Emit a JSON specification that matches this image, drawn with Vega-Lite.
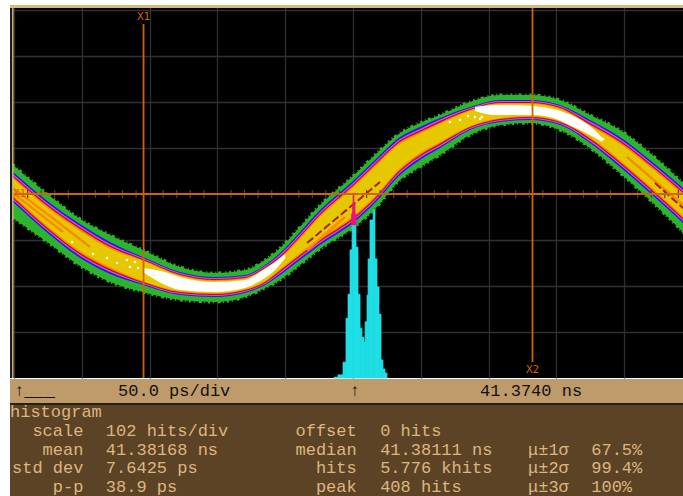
{
"$schema":"https://vega.github.io/schema/vega-lite/v6.json",
"background":"white",
"padding":{"left":10,"top":5,"right":0,"bottom":0},
"autosize":{"type":"pad"},
"spacing":0,
"config":{"view":{"stroke":null},"text":{"font":"Liberation Mono"}},
"datasets":{
"wave":[
{"t":-250.8,"gt":29,"gb":-24,"bt":22,"bb":-8,"mt":20,"mb":-6,"rt":18.5,"rb":-4.5,"ot":17,"ob":-3,"yt":15,"yb":-1},
{"t":-223.5,"gt":-2,"gb":-50,"bt":-9,"bb":-41,"mt":-11,"mb":-39,"rt":-12.5,"rb":-37.5,"ot":-14,"ob":-36,"yt":-16,"yb":-34},
{"t":-201.3,"gt":-25,"gb":-72,"bt":-30,"bb":-64,"mt":-32,"mb":-62,"rt":-33.5,"rb":-60.5,"ot":-35,"ob":-59,"yt":-37,"yb":-57},
{"t":-179.2,"gt":-41,"gb":-88,"bt":-48,"bb":-80,"mt":-50,"mb":-78,"rt":-51.5,"rb":-76.5,"ot":-53,"ob":-75,"yt":-55,"yb":-73},
{"t":-154.9,"gt":-56,"gb":-98,"bt":-63,"bb":-91,"mt":-64,"mb":-90,"rt":-65,"rb":-89,"ot":-66,"ob":-88,"yt":-67,"yb":-87},
{"t":-127.6,"gt":-73,"gb":-106,"bt":-78,"bb":-101,"mt":-79,"mb":-100,"rt":-80,"rb":-99,"ot":-81,"ob":-98,"yt":-82,"yb":-97},
{"t":-101.8,"gt":-79,"gb":-108,"bt":-83,"bb":-103,"mt":-84,"mb":-102,"rt":-85,"rb":-101,"ot":-86,"ob":-100,"yt":-87,"yb":-99},
{"t":-79.7,"gt":-76,"gb":-103,"bt":-81,"bb":-99,"mt":-82,"mb":-98,"rt":-83,"rb":-97,"ot":-84,"ob":-96,"yt":-85,"yb":-95},
{"t":-64.9,"gt":-66,"gb":-94,"bt":-71,"bb":-91,"mt":-72,"mb":-90,"rt":-73,"rb":-89,"ot":-74,"ob":-88,"yt":-75,"yb":-87},
{"t":-53.8,"gt":-54,"gb":-86,"bt":-59,"bb":-81,"mt":-60.5,"mb":-79.5,"rt":-62,"rb":-78,"ot":-63.5,"ob":-76.5,"yt":-65,"yb":-75},
{"t":-39.1,"gt":-33,"gb":-71,"bt":-38,"bb":-66,"mt":-40,"mb":-64,"rt":-41.5,"rb":-62.5,"ot":-43,"ob":-61,"yt":-45,"yb":-59},
{"t":-24.3,"gt":-11,"gb":-55,"bt":-16,"bb":-51,"mt":-18,"mb":-49,"rt":-19.5,"rb":-47.5,"ot":-21,"ob":-46,"yt":-23,"yb":-44},
{"t":0,"gt":18,"gb":-34,"bt":13,"bb":-29,"mt":11,"mb":-27,"rt":9.5,"rb":-25.5,"ot":8,"ob":-24,"yt":6,"yb":-22},
{"t":16.2,"gt":39,"gb":-15,"bt":34,"bb":-9,"mt":32,"mb":-7,"rt":30.5,"rb":-5.5,"ot":29,"ob":-4,"yt":27,"yb":-2},
{"t":34.7,"gt":61,"gb":14,"bt":57,"bb":19,"mt":55,"mb":21,"rt":53.5,"rb":22.5,"ot":52,"ob":24,"yt":50,"yb":26},
{"t":49.4,"gt":71,"gb":27,"bt":67,"bb":34,"mt":65,"mb":36,"rt":63.5,"rb":37.5,"ot":62,"ob":39,"yt":60,"yb":41},
{"t":64.2,"gt":79,"gb":39,"bt":76,"bb":46,"mt":74.5,"mb":47.5,"rt":73,"rb":49,"ot":71.5,"ob":50.5,"yt":70,"yb":52},
{"t":86.3,"gt":92,"gb":59,"bt":87,"bb":64,"mt":86,"mb":65,"rt":85,"rb":66,"ot":84,"ob":67,"yt":83,"yb":68},
{"t":108.4,"gt":99,"gb":69,"bt":94,"bb":72,"mt":93,"mb":73,"rt":92,"rb":74,"ot":91,"ob":75,"yt":90,"yb":76},
{"t":130.5,"gt":99,"gb":71,"bt":94,"bb":74,"mt":93,"mb":75,"rt":92,"rb":76,"ot":91,"ob":77,"yt":90,"yb":78},
{"t":152.7,"gt":94,"gb":64,"bt":89,"bb":69,"mt":88,"mb":70,"rt":87,"rb":71,"ot":86,"ob":72,"yt":85,"yb":73},
{"t":174.8,"gt":79,"gb":46,"bt":74,"bb":51,"mt":72.5,"mb":52.5,"rt":71,"rb":54,"ot":69.5,"ob":55.5,"yt":68,"yb":57},
{"t":196.9,"gt":64,"gb":21,"bt":57,"bb":27,"mt":55,"mb":29,"rt":53.5,"rb":30.5,"ot":52,"ob":32,"yt":50,"yb":34},
{"t":219,"gt":41,"gb":-6,"bt":34,"bb":1,"mt":32,"mb":3,"rt":30.5,"rb":4.5,"ot":29,"ob":6,"yt":27,"yb":8},
{"t":243.4,"gt":11,"gb":-38,"bt":6,"bb":-29,"mt":4,"mb":-27,"rt":2.5,"rb":-25.5,"ot":1,"ob":-24,"yt":-1,"yb":-22}
],
"white":[
{"s":"a","t":-155,"wt":-74,"wb":-78},{"s":"a","t":-138.6,"wt":-78,"wb":-91},{"s":"a","t":-127.6,"wt":-83,"wb":-96},{"s":"a","t":-101.8,"wt":-88,"wb":-98},{"s":"a","t":-79.7,"wt":-86,"wb":-94},{"s":"a","t":-68.6,"wt":-78,"wb":-87},{"s":"a","t":-57.5,"wt":-68,"wb":-76},{"s":"a","t":-50,"wt":-60,"wb":-64},
{"s":"b","t":90,"wt":87,"wb":83},{"s":"b","t":104.7,"wt":89,"wb":79},{"s":"b","t":113.6,"wt":89,"wb":79},{"s":"b","t":132.7,"wt":88,"wb":79},{"s":"b","t":147.5,"wt":85,"wb":76},{"s":"b","t":162.3,"wt":78,"wb":67},{"s":"b","t":174.8,"wt":68,"wb":59},{"s":"b","t":184,"wt":56,"wb":52}
],
"dots":[
{"t":-207.2,"a":-48},{"t":-191.8,"a":-60},{"t":-181.5,"a":-64},{"t":-174.1,"a":-69},{"t":-166.7,"a":-66},{"t":-164.5,"a":-73},{"t":-160.8,"a":-68},{"t":-158.6,"a":-74},
{"t":71.5,"a":72},{"t":78.9,"a":74},{"t":84.8,"a":78},{"t":90,"a":77},{"t":95,"a":77},{"t":93.7,"a":75},{"t":180,"a":57},{"t":184.4,"a":55}
],
"traces":[
{"s":"o1","t":-250.8,"a":6},{"s":"o1","t":-223.5,"a":-22},{"s":"o1","t":-194,"a":-53},
{"s":"o2","t":-250.8,"a":1},{"s":"o2","t":-213.9,"a":-38},
{"s":"o3","t":-33.9,"a":-56},{"s":"o3","t":-5.9,"a":-23},
{"s":"o4","t":202,"a":37},{"s":"o4","t":243.4,"a":-11}
],
"dark":[
{"s":"d1","t":-33.9,"a":-49},{"s":"d1","t":19.9,"a":12},
{"s":"d2","t":222.7,"a":11},{"s":"d2","t":243.4,"a":-14}
],
"hist":[
{"t":-14.0,"t2":-11.1,"hits":2},{"t":-11.1,"t2":-7.4,"hits":7},{"t":-7.4,"t2":-5.2,"hits":35},{"t":-5.2,"t2":-3.7,"hits":132},{"t":-3.7,"t2":-2.2,"hits":185},{"t":-2.2,"t2":-0.7,"hits":283},{"t":-0.7,"t2":2.2,"hits":338},{"t":2.2,"t2":3.7,"hits":289},{"t":3.7,"t2":5.2,"hits":185},{"t":5.2,"t2":6.6,"hits":110},{"t":6.6,"t2":8.1,"hits":90},{"t":8.1,"t2":8.9,"hits":79},{"t":8.9,"t2":10.3,"hits":124},{"t":10.3,"t2":11.1,"hits":183},{"t":11.1,"t2":12.5,"hits":263},{"t":12.5,"t2":14.8,"hits":349},{"t":14.8,"t2":16.2,"hits":371},{"t":16.2,"t2":17.7,"hits":263},{"t":17.7,"t2":19.2,"hits":201},{"t":19.2,"t2":20.7,"hits":141},{"t":20.7,"t2":22.1,"hits":40},{"t":22.1,"t2":23.6,"hits":20},{"t":23.6,"t2":25.1,"hits":11}
],
"pink":[
{"t":-1.1,"t2":2.2,"h1":338,"h2":362},{"t":-0.4,"t2":1.5,"h1":362,"h2":385},{"t":0,"t2":0.7,"h1":385,"h2":408}
],
"minor":[{"t":-240},{"t":-230},{"t":-220},{"t":-210},{"t":-190},{"t":-180},{"t":-170},{"t":-160},{"t":-140},{"t":-130},{"t":-120},{"t":-110},{"t":-90},{"t":-80},{"t":-70},{"t":-60},{"t":-40},{"t":-30},{"t":-20},{"t":-10},{"t":10},{"t":20},{"t":30},{"t":40},{"t":60},{"t":70},{"t":80},{"t":90},{"t":110},{"t":120},{"t":130},{"t":140},{"t":160},{"t":170},{"t":180},{"t":190},{"t":210},{"t":220},{"t":230},{"t":240}]
},
"vconcat":[
{"width":673,"height":373,
"view":{"fill":"#000000","stroke":null},
"resolve":{"scale":{"y":"independent"}},
"layer":[
{"layer":[
{"data":{"values":[{"t":0,"a":0}]},"mark":{"type":"point","opacity":0},
"encoding":{"x":{"field":"t","type":"quantitative","scale":{"domain":[-253,243.4],"nice":false,"zero":false},"axis":{"title":null,"labels":false,"ticks":false,"domain":false,"minExtent":0,"maxExtent":0,"grid":true,"gridColor":"#303030","gridWidth":1.3,"values":[-250,-200,-150,-100,-50,0,50,100,150,200]}},
"y":{"field":"a","type":"quantitative","scale":{"domain":[-184,189],"nice":false,"zero":false},"axis":{"title":null,"labels":false,"ticks":false,"domain":false,"minExtent":0,"maxExtent":0,"grid":true,"gridColor":"#303030","gridWidth":1.3,"values":[184,138,92,46,-46,-92,-138]}}}},
{"data":{"name":"wave"},"mark":{"type":"area","clip":true,"interpolate":"monotone","color":"#2cb52c","stroke":"#2cb52c","strokeWidth":3,"strokeDash":[2,3,1,2,3,4,1,3]},"encoding":{"x":{"field":"t","type":"quantitative"},"y":{"field":"gt","type":"quantitative"},"y2":{"field":"gb"}}},
{"data":{"name":"wave"},"mark":{"type":"area","interpolate":"monotone","color":"#1c1cf0"},"encoding":{"x":{"field":"t","type":"quantitative"},"y":{"field":"bt","type":"quantitative"},"y2":{"field":"bb"}}},
{"data":{"name":"wave"},"mark":{"type":"area","interpolate":"monotone","color":"#f040e8"},"encoding":{"x":{"field":"t","type":"quantitative"},"y":{"field":"mt","type":"quantitative"},"y2":{"field":"mb"}}},
{"data":{"name":"wave"},"mark":{"type":"area","interpolate":"monotone","color":"#b00c28"},"encoding":{"x":{"field":"t","type":"quantitative"},"y":{"field":"rt","type":"quantitative"},"y2":{"field":"rb"}}},
{"data":{"name":"wave"},"mark":{"type":"area","interpolate":"monotone","color":"#fb8c00"},"encoding":{"x":{"field":"t","type":"quantitative"},"y":{"field":"ot","type":"quantitative"},"y2":{"field":"ob"}}},
{"data":{"name":"wave"},"mark":{"type":"area","interpolate":"monotone","color":"#e6c800"},"encoding":{"x":{"field":"t","type":"quantitative"},"y":{"field":"yt","type":"quantitative"},"y2":{"field":"yb"}}},
{"data":{"name":"traces"},"mark":{"type":"line","clip":true,"color":"#fb8c00","strokeWidth":2.5},"encoding":{"x":{"field":"t","type":"quantitative"},"y":{"field":"a","type":"quantitative"},"detail":{"field":"s"}}},
{"data":{"name":"dark"},"mark":{"type":"line","clip":true,"color":"#b02010","strokeWidth":2,"strokeDash":[8,3]},"encoding":{"x":{"field":"t","type":"quantitative"},"y":{"field":"a","type":"quantitative"},"detail":{"field":"s"}}},
{"data":{"name":"white"},"mark":{"type":"area","interpolate":"monotone","color":"#ffffff"},"encoding":{"x":{"field":"t","type":"quantitative"},"y":{"field":"wt","type":"quantitative"},"y2":{"field":"wb"},"detail":{"field":"s"}}},
{"data":{"name":"dots"},"mark":{"type":"square","color":"#ffffff","opacity":1,"size":5},"encoding":{"x":{"field":"t","type":"quantitative"},"y":{"field":"a","type":"quantitative"}}}
]},
{"layer":[
{"data":{"name":"hist"},"mark":{"type":"rect","color":"#1fdfe6","stroke":"#1fdfe6","strokeWidth":0.7},"encoding":{"x":{"field":"t","type":"quantitative"},"x2":{"field":"t2"},"y":{"field":"hits","type":"quantitative","scale":{"domain":[0,823.5],"nice":false},"axis":null},"y2":{"datum":0}}},
{"data":{"name":"pink"},"mark":{"type":"rect","color":"#f0108a","stroke":"#f0108a","strokeWidth":0.7},"encoding":{"x":{"field":"t","type":"quantitative"},"x2":{"field":"t2"},"y":{"field":"h1","type":"quantitative"},"y2":{"field":"h2"}}}
]},
{"layer":[
{"data":{"name":"minor"},"mark":{"type":"rule","color":"#444444","strokeWidth":1.2},"encoding":{"x":{"field":"t","type":"quantitative"},"y":{"datum":4,"type":"quantitative","scale":{"domain":[-184,189],"nice":false,"zero":false},"axis":null},"y2":{"datum":-4}}},
{"data":{"values":[{"lo":-250.4,"hi":243.4,"a":0}]},"mark":{"type":"rule","clip":true,"color":"#d06400","strokeWidth":1.8},"encoding":{"x":{"field":"lo","type":"quantitative"},"x2":{"field":"hi"},"y":{"field":"a","type":"quantitative"}}},
{"data":{"values":[{"t":-154.5,"a1":170,"a2":-184},{"t":132.4,"a1":186,"a2":-168}]},"mark":{"type":"rule","clip":true,"color":"#d06400","strokeWidth":1.8},"encoding":{"x":{"field":"t","type":"quantitative"},"y":{"field":"a1","type":"quantitative"},"y2":{"field":"a2"}}},
{"data":{"values":[{"t":-154.5,"a":177,"s":"X1"},{"t":132.4,"a":-176,"s":"X2"},{"t":-246,"a":0,"s":"X1"}]},"mark":{"type":"text","color":"#d06400","font":"DejaVu Sans Mono","fontSize":11,"baseline":"middle"},"encoding":{"x":{"field":"t","type":"quantitative"},"y":{"field":"a","type":"quantitative"},"text":{"field":"s"}}},
{"data":{"values":[{"t":-253,"t2":243.4,"a1":189,"a2":186,"c":"tan"},{"t":-251.5,"t2":-250.4,"a1":186,"a2":-184,"c":"tan"},{"t":-253,"t2":-251.5,"a1":186,"a2":-184,"c":"dark"}]},"mark":{"type":"rect"},"encoding":{"x":{"field":"t","type":"quantitative"},"x2":{"field":"t2"},"y":{"field":"a1","type":"quantitative"},"y2":{"field":"a2"},"color":{"field":"c","type":"nominal","legend":null,"scale":{"domain":["tan","dark"],"range":["#dcb67f","#1c1c1c"]}}}}
]}
]},
{"width":673,"height":24,
"view":{"fill":"#bf9b6b","stroke":null},
"data":{"values":[{"col":0.4,"s":"↑___"},{"col":10.6,"s":"50.0 ps/div"},{"col":33.3,"s":"↑"},{"col":46.1,"s":"41.3740 ns"}]},
"mark":{"type":"text","align":"left","baseline":"middle","fontSize":17,"color":"#111111"},
"encoding":{"x":{"field":"col","type":"quantitative","scale":{"domain":[0,66],"nice":false,"zero":false},"axis":null},"y":{"datum":0.5,"type":"quantitative","scale":{"domain":[0,1]},"axis":null},"text":{"field":"s"}}},
{"width":673,"height":93,
"view":{"fill":"#5c4326","stroke":null},
"layer":[
{"data":{"values":[{"c0":0,"c1":66,"r":-0.5,"r2":-0.39}]},"mark":{"type":"rect","color":"#2a2010"},"encoding":{"x":{"field":"c0","type":"quantitative","scale":{"domain":[0,66],"nice":false,"zero":false},"axis":null},"x2":{"field":"c1"},"y":{"field":"r","type":"quantitative","scale":{"domain":[4.5,-0.5],"nice":false,"zero":false},"axis":null},"y2":{"field":"r2"}}},
{"data":{"values":[
{"col":0,"r":0,"s":"histogram"},
{"col":9.4,"r":1,"s":"102 hits/div"},{"col":9.4,"r":2,"s":"41.38168 ns"},{"col":9.4,"r":3,"s":"7.6425 ps"},{"col":9.4,"r":4,"s":"38.9 ps"},
{"col":36.3,"r":1,"s":"0 hits"},{"col":36.3,"r":2,"s":"41.38111 ns"},{"col":36.3,"r":3,"s":"5.776 khits"},{"col":36.3,"r":4,"s":"408 hits"},
{"col":50.8,"r":2,"s":"μ±1σ"},{"col":50.8,"r":3,"s":"μ±2σ"},{"col":50.8,"r":4,"s":"μ±3σ"},
{"col":57,"r":2,"s":"67.5%"},{"col":57,"r":3,"s":"99.4%"},{"col":57,"r":4,"s":"100%"}
]},"mark":{"type":"text","align":"left","baseline":"middle","fontSize":17,"color":"#dcb67f"},
"encoding":{"x":{"field":"col","type":"quantitative"},"y":{"field":"r","type":"quantitative"},"text":{"field":"s"}}},
{"data":{"values":[
{"col":7.2,"r":1,"s":"scale"},{"col":7.2,"r":2,"s":"mean"},{"col":7.2,"r":3,"s":"std dev"},{"col":7.2,"r":4,"s":"p-p"},
{"col":34,"r":1,"s":"offset"},{"col":34,"r":2,"s":"median"},{"col":34,"r":3,"s":"hits"},{"col":34,"r":4,"s":"peak"}
]},"mark":{"type":"text","align":"right","baseline":"middle","fontSize":17,"color":"#dcb67f"},
"encoding":{"x":{"field":"col","type":"quantitative"},"y":{"field":"r","type":"quantitative"},"text":{"field":"s"}}}
]}
]}
